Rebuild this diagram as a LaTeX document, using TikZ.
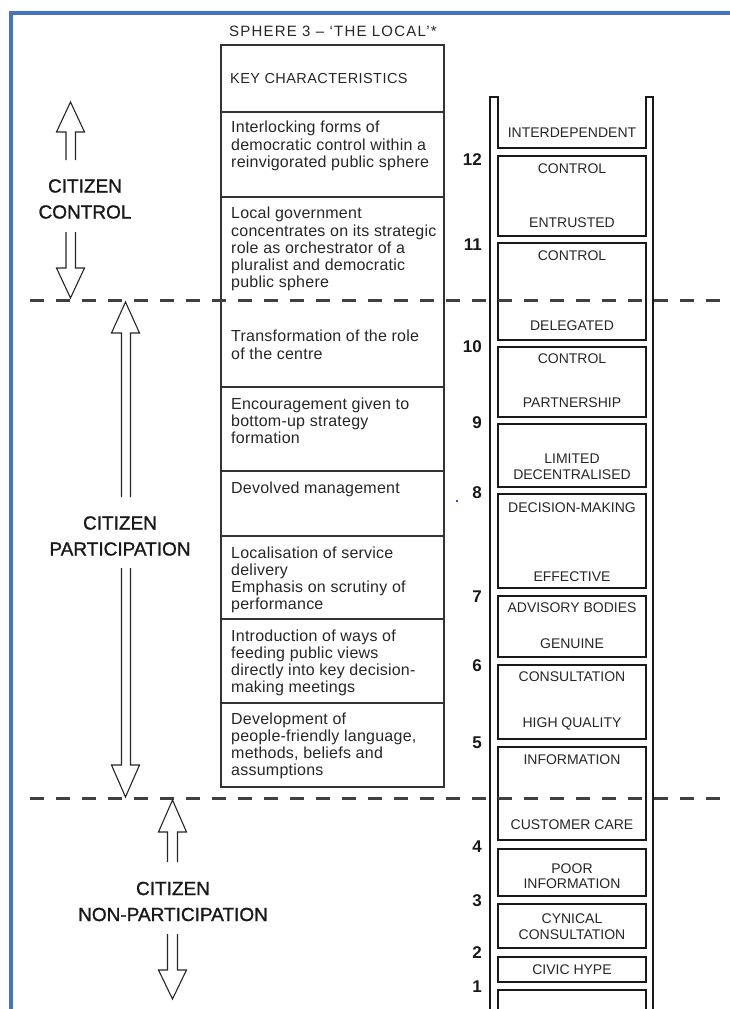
\documentclass[tikz,border=0pt]{standalone}
\usepackage{fontspec}
\setmainfont{Liberation Sans}
\definecolor{frameblue}{HTML}{4472C4}
\tikzset{
  frame/.style={draw=frameblue, line width=3.6pt},
  cell/.style={draw=black!80, line width=1.2pt},
  rail/.style={draw=black!90, line width=1.6pt, line join=miter},
  hollow/.style={draw=black!85, line width=1.1pt, line join=miter},
  divider/.style={draw=black!75, line width=3pt, dash pattern=on 14pt off 12pt},
  titletext/.style={anchor=west, inner sep=0pt, text=black!85, font=\fontsize{15}{16}\selectfont\addfontfeature{LetterSpace=8}},
  keytext/.style={anchor=north west, inner sep=0pt, align=left, text=black!85, font=\fontsize{16}{17.2}\selectfont\addfontfeature{LetterSpace=1.5}},
  rungtext/.style={inner sep=0pt, align=center, text=black!85, font=\fontsize{14}{15.5}\selectfont},
  stepnum/.style={anchor=east, inner sep=0pt, text=black!90, font=\bfseries\fontsize{17}{17}\selectfont},
  zone/.style={inner sep=0pt, align=center, text=black!90, font=\fontsize{19}{26}\selectfont\addfontfeature{FakeBold=1.2}}
}
\begin{document}
\begin{tikzpicture}[x=1pt,y=-1pt]
\useasboundingbox (0,0) rectangle (729,1009);
\draw[frame] (11,1012) |- (732,12.8);

% key characteristics column
\node[titletext] (sphere) at (229,31) {SPHERE 3 -- `THE LOCAL'*};
\draw[cell] (221,45) rectangle (444,787);
\foreach \y in {112,197,387,471,536,619,703}
  \draw[cell] (221,\y) -- (444,\y);
\node[keytext, font=\fontsize{14.5}{16}\selectfont\addfontfeature{LetterSpace=3}] (keyhead) at (230,72.8) {KEY CHARACTERISTICS};
\node[keytext] (interlock) at (231,121.2) {Interlocking forms of\\democratic control within a\\reinvigorated public sphere};
\node[keytext] (localgov) at (231,207.2) {Local government\\concentrates on its strategic\\role as orchestrator of a\\pluralist and democratic\\public sphere};
\node[keytext] (centre) at (231,330.2) {Transformation of the role\\of the centre};
\node[keytext] (bottomup) at (231,397.2) {Encouragement given to\\bottom-up strategy\\formation};
\node[keytext] (devolved) at (231,481.2) {Devolved management};
\node[keytext] (localise) at (231,546.2) {Localisation of service\\delivery\\Emphasis on scrutiny of\\performance};
\node[keytext] (feeding) at (231,629.2) {Introduction of ways of\\feeding public views\\directly into key decision-\\making meetings};
\node[keytext] (friendly) at (231,712.2) {Development of\\people-friendly language,\\methods, beliefs and\\assumptions};

% the ladder
\draw[rail] (490,1012) |- (498,97) -- (498,148) -| (646,97) -| (653,1012);
\foreach \t/\b in {156/236,243/340,347/417,424/487,494/588,596/657,665/739,747/840,849/896,904/948,957/982,990/1015}
  \draw[rail] (498,\t) rectangle (646,\b);
\node[rungtext] (interdep) at (572,133) {INTERDEPENDENT};
\node[rungtext] (controla) at (572,169) {CONTROL};
\node[rungtext] (entrusted) at (572,223) {ENTRUSTED};
\node[rungtext] (controlb) at (572,256) {CONTROL};
\node[rungtext] (delegated) at (572,326) {DELEGATED};
\node[rungtext] (controlc) at (572,359) {CONTROL};
\node[rungtext] (partner) at (572,403) {PARTNERSHIP};
\node[rungtext] (limited) at (572,466.5) {LIMITED\\DECENTRALISED};
\node[rungtext] (decision) at (572,508) {DECISION-MAKING};
\node[rungtext] (effective) at (572,577) {EFFECTIVE};
\node[rungtext] (advisory) at (572,608) {ADVISORY BODIES};
\node[rungtext] (genuine) at (572,644) {GENUINE};
\node[rungtext] (consult) at (572,677) {CONSULTATION};
\node[rungtext] (highq) at (572,724) {HIGH QUALITY};
\node[rungtext] (inform) at (572,760) {INFORMATION};
\node[rungtext] (care) at (572,825) {CUSTOMER CARE};
\node[rungtext] (poor) at (572,876) {POOR\\INFORMATION};
\node[rungtext] (cynical) at (572,926.5) {CYNICAL\\CONSULTATION};
\node[rungtext] (hype) at (572,970) {CIVIC HYPE};
\foreach \n/\y in {12/160,11/245,10/347,9/423,8/493,7/597,6/666,5/743,4/847,3/901,2/953,1/987}
  \node[stepnum] (step\n) at (482,\y) {\n};
\fill[blue] (457,501) circle (1.1pt);

% zones
\draw[divider] (30,300) -- (729,300);
\draw[divider] (30,798) -- (729,798);
\node[zone] (ctrl) at (85,199) {CITIZEN\\CONTROL};
\node[zone] (partic) at (120,536) {CITIZEN\\PARTICIPATION};
\node[zone] (nonpartic) at (173,901.5) {CITIZEN\\NON-PARTICIPATION};
\draw[hollow] (66,160) |- (56.5,132) -- (70.5,102) -- (84.5,132) -| (75.5,160);
\draw[hollow] (66,232) |- (56.5,268) -- (70.5,298) -- (84.5,268) -| (75.5,232);
\draw[hollow] (121.5,497) |- (111.5,333) -- (125.5,302) -- (139.5,333) -| (130.5,497);
\draw[hollow] (121.5,568) |- (111.5,765) -- (125.5,797) -- (139.5,765) -| (130.5,568);
\draw[hollow] (167.5,862) |- (158.5,832) -- (172.5,800) -- (186.5,832) -| (177.5,862);
\draw[hollow] (167.5,934) |- (158.5,970) -- (172.5,999) -- (186.5,970) -| (177.5,934);
\end{tikzpicture}
\end{document}
